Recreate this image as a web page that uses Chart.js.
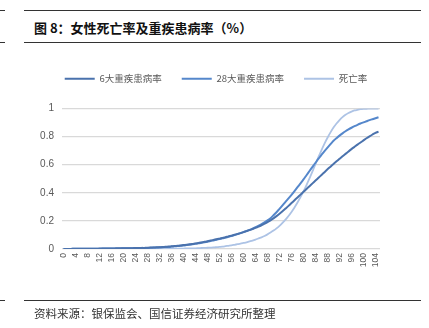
<!DOCTYPE html>
<html>
<head>
<meta charset="utf-8">
<script src="https://cdn.jsdelivr.net/npm/chart.js@4/dist/chart.umd.min.js"></script>
<style>
  html, body { margin: 0; padding: 0; background: #fff; }
  body { width: 429px; height: 328px; position: relative; overflow: hidden; }
  .rule { position: absolute; height: 1px; background: #333; }
  #title { position: absolute; left: 34px; top: 18px; font: bold 13px "Noto Sans CJK SC", sans-serif; color: #111; white-space: nowrap; }
  #source { position: absolute; left: 34px; top: 305px; font: 11.5px "Noto Sans CJK SC", sans-serif; color: #333; white-space: nowrap; }
  #wrap { position: absolute; left: 0; top: 0; width: 429px; height: 328px; }
</style>
</head>
<body>
<div class="rule" style="left:0;width:5px;top:10px"></div>
<div class="rule" style="left:24px;width:397px;top:10px"></div>
<div id="title">图 8：女性死亡率及重疾患病率（%）</div>
<div class="rule" style="left:0;width:5px;top:42px"></div>
<div class="rule" style="left:24px;width:397px;top:42px"></div>
<div id="wrap"><canvas id="chart" width="429" height="328"></canvas></div>
<div class="rule" style="left:0;width:5px;top:300px"></div>
<div class="rule" style="left:24px;width:397px;top:300px"></div>
<div id="source">资料来源：银保监会、国信证券经济研究所整理</div>
<script>
// age 0 .. 105
const ages = [
  0, 1, 2, 3, 4, 5, 6, 7, 8, 9, 10, 11, 12, 13, 14, 15, 16, 17, 18, 19,
  20, 21, 22, 23, 24, 25, 26, 27, 28, 29, 30, 31, 32, 33, 34, 35, 36, 37, 38, 39,
  40, 41, 42, 43, 44, 45, 46, 47, 48, 49, 50, 51, 52, 53, 54, 55, 56, 57, 58, 59,
  60, 61, 62, 63, 64, 65, 66, 67, 68, 69, 70, 71, 72, 73, 74, 75, 76, 77, 78, 79,
  80, 81, 82, 83, 84, 85, 86, 87, 88, 89, 90, 91, 92, 93, 94, 95, 96, 97, 98, 99,
  100, 101, 102, 103, 104, 105
];

const yTicks = [0, 0.2, 0.4, 0.6, 0.8, 1];

const seriesNames = ['6大重疾患病率', '28大重疾患病率', '死亡率'];

const rate6 = [
  0, 0, 0, 0.001, 0.001, 0.001, 0.001, 0.001, 0.002, 0.002,
  0.002, 0.002, 0.003, 0.003, 0.003, 0.004, 0.004, 0.004, 0.005, 0.005,
  0.005, 0.006, 0.006, 0.006, 0.007, 0.007, 0.008, 0.008, 0.009, 0.010,
  0.011, 0.012, 0.013, 0.014, 0.016, 0.017, 0.019, 0.021, 0.023, 0.025,
  0.028, 0.030, 0.033, 0.036, 0.040, 0.043, 0.047, 0.051, 0.055, 0.060,
  0.065, 0.069, 0.074, 0.079, 0.084, 0.090, 0.095, 0.101, 0.107, 0.113,
  0.120, 0.127, 0.134, 0.142, 0.150, 0.159, 0.169, 0.180, 0.191, 0.204,
  0.218, 0.234, 0.251, 0.269, 0.288, 0.307, 0.327, 0.347, 0.367, 0.387,
  0.407, 0.427, 0.447, 0.467, 0.487, 0.507, 0.527, 0.547, 0.567, 0.586,
  0.605, 0.624, 0.642, 0.660, 0.677, 0.694, 0.711, 0.727, 0.743, 0.758,
  0.773, 0.788, 0.802, 0.815, 0.827, 0.835
];

const rate28 = [
  0, 0, 0, 0.001, 0.001, 0.001, 0.001, 0.001, 0.002, 0.002,
  0.002, 0.002, 0.002, 0.003, 0.003, 0.003, 0.003, 0.004, 0.004, 0.004,
  0.005, 0.005, 0.005, 0.006, 0.006, 0.007, 0.007, 0.008, 0.008, 0.009,
  0.010, 0.011, 0.012, 0.013, 0.014, 0.015, 0.017, 0.019, 0.021, 0.023,
  0.025, 0.028, 0.031, 0.034, 0.037, 0.040, 0.044, 0.048, 0.052, 0.056,
  0.061, 0.066, 0.071, 0.076, 0.081, 0.087, 0.093, 0.099, 0.106, 0.113,
  0.120, 0.128, 0.136, 0.145, 0.155, 0.166, 0.177, 0.190, 0.204, 0.219,
  0.240, 0.262, 0.285, 0.310, 0.336, 0.360, 0.385, 0.412, 0.440, 0.467,
  0.495, 0.525, 0.555, 0.585, 0.614, 0.643, 0.670, 0.697, 0.722, 0.746,
  0.770, 0.789, 0.807, 0.823, 0.838, 0.851, 0.863, 0.874, 0.884, 0.893,
  0.901, 0.909, 0.917, 0.924, 0.931, 0.938
];

const deathRate = [
  0.001, 0, 0, 0, 0, 0, 0, 0, 0, 0,
  0, 0, 0, 0, 0, 0, 0.001, 0.001, 0.001, 0.001,
  0.001, 0.001, 0.001, 0.001, 0.001, 0.001, 0.001, 0.001, 0.001, 0.001,
  0.001, 0.001, 0.001, 0.002, 0.002, 0.002, 0.002, 0.002, 0.003, 0.003,
  0.003, 0.004, 0.004, 0.005, 0.005, 0.006, 0.007, 0.008, 0.009, 0.010,
  0.011, 0.013, 0.015, 0.017, 0.020, 0.023, 0.026, 0.030, 0.034, 0.038,
  0.043, 0.048, 0.054, 0.060, 0.067, 0.075, 0.083, 0.093, 0.104, 0.117,
  0.131, 0.147, 0.165, 0.186, 0.209, 0.235, 0.264, 0.296, 0.331, 0.369,
  0.410, 0.455, 0.503, 0.553, 0.604, 0.655, 0.704, 0.750, 0.792, 0.830,
  0.864, 0.893, 0.918, 0.939, 0.955, 0.968, 0.978, 0.986, 0.991, 0.995,
  0.997, 0.998, 0.999, 1.0, 1.0, 1.0
];

const colors = ['#4a72ad', '#5587cb', '#adc3e5'];
const widths = [2, 2, 1.8];

const makeSet = (label, data, i) => ({
  label,
  data,
  borderColor: colors[i],
  backgroundColor: colors[i],
  borderWidth: widths[i],
  pointRadius: 0,
  tension: 0.2,
  fill: false,
  yAxisID: 'y'
});

// leave more room between the legend row and the plot
const legendGap = {
  id: 'legendGap',
  afterInit(chart) {
    const legend = chart.legend;
    if (!legend) return;
    const fit = legend.fit;
    legend.fit = function () {
      fit.call(this);
      this.height += 15;
    };
  }
};

new Chart(document.getElementById('chart'), {
  type: 'line',
  data: {
    labels: ages,
    datasets: [
      makeSet(seriesNames[0], rate6, 0),
      makeSet(seriesNames[1], rate28, 1),
      makeSet(seriesNames[2], deathRate, 2)
    ]
  },
  plugins: [legendGap],
  options: {
    responsive: false,
    animation: false,
    layout: { padding: { left: 3, right: 0, top: 54, bottom: 49 } },
    plugins: {
      legend: {
        position: 'top',
        labels: {
          usePointStyle: true,
          pointStyle: 'line',
          pointStyleWidth: 30,
          padding: 20,
          color: '#595959',
          font: { family: '"Noto Sans CJK SC", sans-serif', size: 9.5 }
        }
      },
      tooltip: { enabled: false }
    },
    scales: {
      x: {
        offset: true,
        grid: { display: false, drawTicks: false },
        border: { display: false },
        afterFit: s => { s.height = 30; },
        ticks: {
          autoSkip: false,
          minRotation: 90,
          maxRotation: 90,
          padding: 4,
          color: '#595959',
          font: { family: '"Liberation Sans", Arial, sans-serif', size: 8.5 },
          callback: (v, i) => (i % 4 === 0 ? ages[i] : '')
        }
      },
      y: {
        min: 0,
        max: 1,
        afterFit: s => { s.width = 59; },
        afterBuildTicks: s => { s.ticks = yTicks.map(v => ({ value: v })); },
        grid: { color: '#d9d9d9', lineWidth: 1.3, drawTicks: false },
        border: { display: false },
        ticks: {
          padding: 8,
          color: '#595959',
          font: { family: '"Liberation Sans", Arial, sans-serif', size: 10 },
          callback: v => (v === 0 || v === 1 ? String(v) : v.toFixed(1))
        }
      },
      // empty right-hand axis, only reserves the blank margin
      yRight: {
        position: 'right',
        min: 0,
        max: 1,
        afterFit: s => { s.width = 49; },
        grid: { display: false, drawTicks: false },
        border: { display: false },
        ticks: { display: false }
      }
    }
  }
});
</script>
</body>
</html>
